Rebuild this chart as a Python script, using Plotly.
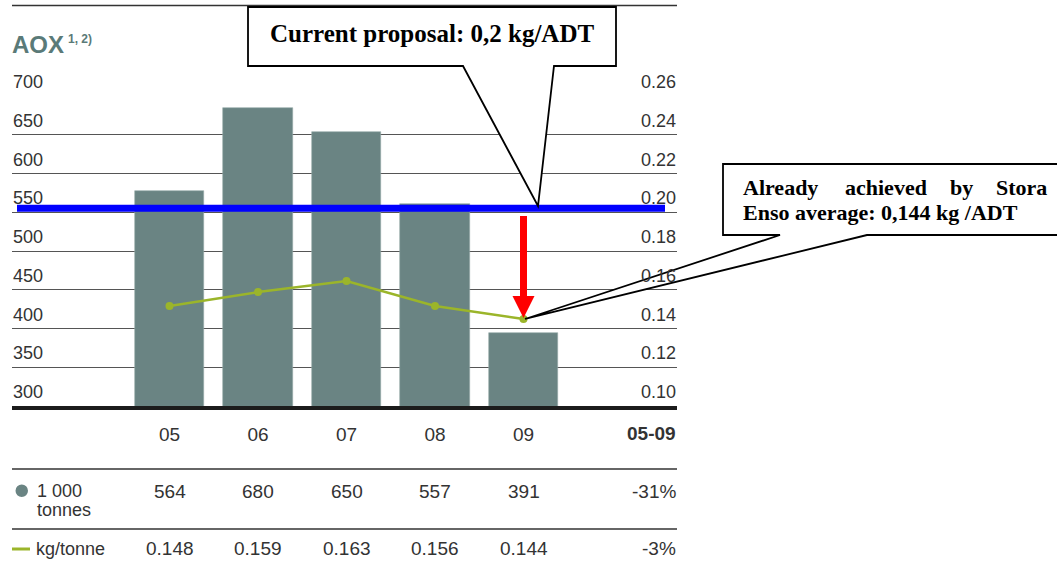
import plotly.graph_objects as go

W, H = 1057, 564

# ---------------- data ----------------
years = ["05", "06", "07", "08", "09"]
aox_tonnes = [578, 684, 653, 561, 394]             # bar heights (1 000 tonnes)
aox_kg = [0.1516, 0.1588, 0.1645, 0.1516, 0.1449]  # line values (kg/tonne)
table_tonnes = ["564", "680", "650", "557", "391"]
table_kg = ["0.148", "0.159", "0.163", "0.156", "0.144"]
change_label = "05-09"
change_tonnes = "-31%"
change_kg = "-3%"
left_ticks = [300, 350, 400, 450, 500, 550, 600, 650, 700]
right_ticks = [0.10, 0.12, 0.14, 0.16, 0.18, 0.20, 0.22, 0.24, 0.26]
proposal_level = 0.20

BAR_C = "rgb(106,132,131)"
LINE_C = "rgb(155,181,42)"
TXT_C = "#333333"
TITLE_C = "rgb(90,122,120)"
SANS = "Liberation Sans, Arial, sans-serif"
SERIF = "Liberation Serif, Times New Roman, serif"


def px(x):
    return x / W


def py(y):
    return 1 - y / H


xs = list(range(len(years)))

fig = go.Figure()
fig.add_trace(go.Bar(x=xs, y=aox_tonnes, width=0.785,
                     marker=dict(color=BAR_C, line=dict(color="rgb(150,170,168)", width=0.6)),
                     yaxis="y", hoverinfo="skip"))
fig.add_trace(go.Scatter(x=xs, y=aox_kg, mode="lines+markers", yaxis="y2",
                         line=dict(color=LINE_C, width=2.5), marker=dict(color=LINE_C, size=8),
                         hoverinfo="skip"))

# x range: category 0 at px 169.5, spacing 88.5 px, plot from px 12 to 677
x0 = (12 - 169.5) / 88.5
x1 = (677 - 169.5) / 88.5
ydom = [py(406), py(96)]

fig.update_layout(
    width=W, height=H,
    margin=dict(l=0, r=0, t=0, b=0),
    paper_bgcolor="white", plot_bgcolor="white",
    showlegend=False,
    bargap=0,
    xaxis=dict(domain=[px(12), px(677)], range=[x0, x1], tickvals=xs, ticktext=years,
               showgrid=False, zeroline=False, showline=True, linecolor="#1c1c1c", linewidth=4,
               ticks="", ticklabelstandoff=8, tickfont=dict(family=SANS, size=19, color=TXT_C)),
    yaxis=dict(domain=ydom, range=[300, 700], tickvals=left_ticks, showgrid=True,
               gridcolor="#555555", gridwidth=1.4, zeroline=False, showline=False, ticks="",
               showticklabels=False),
    yaxis2=dict(domain=ydom, range=[0.10, 0.26], tickvals=right_ticks,
                overlaying="y", side="right", showgrid=False, zeroline=False, showline=False, ticks="",
                showticklabels=False),
)

shapes = []
# top rule
shapes.append(dict(type="line", xref="paper", yref="paper", x0=px(12), x1=px(677), y0=py(5.5), y1=py(5.5),
                   line=dict(color="#333333", width=1.5), layer="above"))
# table rules
for yy in (469, 529):
    shapes.append(dict(type="line", xref="paper", yref="paper", x0=px(12), x1=px(677), y0=py(yy), y1=py(yy),
                       line=dict(color="#333333", width=1.5), layer="above"))
# legend symbols
shapes.append(dict(type="circle", xref="paper", yref="paper", x0=px(15.5), x1=px(28), y0=py(484.5), y1=py(497),
                   fillcolor=BAR_C, line=dict(width=0), layer="above"))
shapes.append(dict(type="line", xref="paper", yref="paper", x0=px(12), x1=px(30), y0=py(549), y1=py(549),
                   line=dict(color=LINE_C, width=3), layer="above"))
# blue proposal line
shapes.append(dict(type="line", xref="paper", yref="y2", x0=px(17), x1=px(665),
                   ysizemode="pixel", yanchor=proposal_level, y0=4, y1=4,
                   line=dict(color="#0000ff", width=7), layer="above"))
# red arrow pointing to the 2009 value
shapes.append(dict(type="path", xref="x", yref="y2", xsizemode="pixel", ysizemode="pixel",
                   xanchor=xs[-1], yanchor=aox_kg[-1],
                   path="M-3.5,22 L3.5,22 L3.5,103 L-3.5,103 Z",
                   fillcolor="#ff0000", line=dict(width=0), layer="above"))
shapes.append(dict(type="path", xref="x", yref="y2", xsizemode="pixel", ysizemode="pixel",
                   xanchor=xs[-1], yanchor=aox_kg[-1],
                   path="M-11,23 L11,23 L0,1 Z",
                   fillcolor="#ff0000", line=dict(width=0), layer="above"))


def poly(points):
    return "M" + " L".join(f"{px(a):.5f},{py(b):.5f}" for a, b in points) + " Z"


# callout 1
shapes.append(dict(type="path", xref="paper", yref="paper",
                   path=poly([(248, 7), (616, 7), (616, 66), (554, 66), (538, 206), (463, 66), (248, 66)]),
                   fillcolor="white", line=dict(color="black", width=1.8), layer="above"))
# callout 2
shapes.append(dict(type="path", xref="paper", yref="paper",
                   path=poly([(723, 164), (1070, 164), (1070, 235), (867, 235), (525, 319), (780, 235), (723, 235)]),
                   fillcolor="white", line=dict(color="black", width=1.8), layer="above"))
fig.update_layout(shapes=shapes)

ann = []
# y tick labels, placed above their gridlines
for v in left_ticks:
    ann.append(dict(xref="paper", yref="y", x=px(11), y=v, xanchor="left", yanchor="bottom", yshift=2,
                    text=f"{v}", showarrow=False, font=dict(family=SANS, size=18, color=TXT_C)))
for v in right_ticks:
    ann.append(dict(xref="paper", yref="y2", x=px(678), y=v, xanchor="right", yanchor="bottom", yshift=2,
                    text=f"{v:.2f}", showarrow=False, font=dict(family=SANS, size=18, color=TXT_C)))
# title
ann.append(dict(xref="paper", yref="paper", x=px(10), y=py(45), xanchor="left", yanchor="middle",
                text="<b>AOX</b>", showarrow=False, font=dict(family=SANS, size=24, color=TITLE_C)))
ann.append(dict(xref="paper", yref="paper", x=px(66), y=py(39), xanchor="left", yanchor="middle",
                text="<b>1, 2)</b>", showarrow=False, font=dict(family=SANS, size=12, color=TITLE_C)))
# 05-09 header
ann.append(dict(xref="paper", yref="paper", x=px(678), y=py(433), xanchor="right", yanchor="middle",
                text=f"<b>{change_label}</b>", showarrow=False, font=dict(family=SANS, size=19, color=TXT_C)))
# table rows
for i, (t, k) in enumerate(zip(table_tonnes, table_kg)):
    ann.append(dict(xref="x", yref="paper", x=xs[i], y=py(491), xanchor="center", yanchor="middle",
                    text=t, showarrow=False, font=dict(family=SANS, size=19, color=TXT_C)))
    ann.append(dict(xref="x", yref="paper", x=xs[i], y=py(548), xanchor="center", yanchor="middle",
                    text=k, showarrow=False, font=dict(family=SANS, size=19, color=TXT_C)))
ann.append(dict(xref="paper", yref="paper", x=px(678), y=py(491), xanchor="right", yanchor="middle",
                text=change_tonnes, showarrow=False, font=dict(family=SANS, size=19, color=TXT_C)))
ann.append(dict(xref="paper", yref="paper", x=px(678), y=py(548), xanchor="right", yanchor="middle",
                text=change_kg, showarrow=False, font=dict(family=SANS, size=19, color=TXT_C)))
# legend labels
ann.append(dict(xref="paper", yref="paper", x=px(35), y=py(491), xanchor="left", yanchor="middle",
                text="1 000", showarrow=False, font=dict(family=SANS, size=18, color=TXT_C)))
ann.append(dict(xref="paper", yref="paper", x=px(35), y=py(510), xanchor="left", yanchor="middle",
                text="tonnes", showarrow=False, font=dict(family=SANS, size=18, color=TXT_C)))
ann.append(dict(xref="paper", yref="paper", x=px(34), y=py(549), xanchor="left", yanchor="middle",
                text="kg/tonne", showarrow=False, font=dict(family=SANS, size=18, color=TXT_C)))
# callout texts
ann.append(dict(xref="paper", yref="paper", x=px(432), y=py(33), xanchor="center", yanchor="middle",
                text="<b>Current proposal: 0,2 kg/ADT</b>", showarrow=False,
                font=dict(family=SERIF, size=25, color="black")))
for word, xl in (("Already", 741), ("achieved", 843), ("by", 948), ("Stora", 994)):
    ann.append(dict(xref="paper", yref="paper", x=px(xl), y=py(188), xanchor="left", yanchor="middle",
                    text=f"<b>{word}</b>", showarrow=False, font=dict(family=SERIF, size=22, color="black")))
ann.append(dict(xref="paper", yref="paper", x=px(741), y=py(213), xanchor="left", yanchor="middle",
                text="<b>Enso average: 0,144 kg /ADT</b>", showarrow=False,
                font=dict(family=SERIF, size=22, color="black")))
fig.update_layout(annotations=ann)

fig.write_html("out.html", config={"displayModeBar": False},
               post_script="document.body.style.margin='0';document.body.style.overflow='hidden';")
